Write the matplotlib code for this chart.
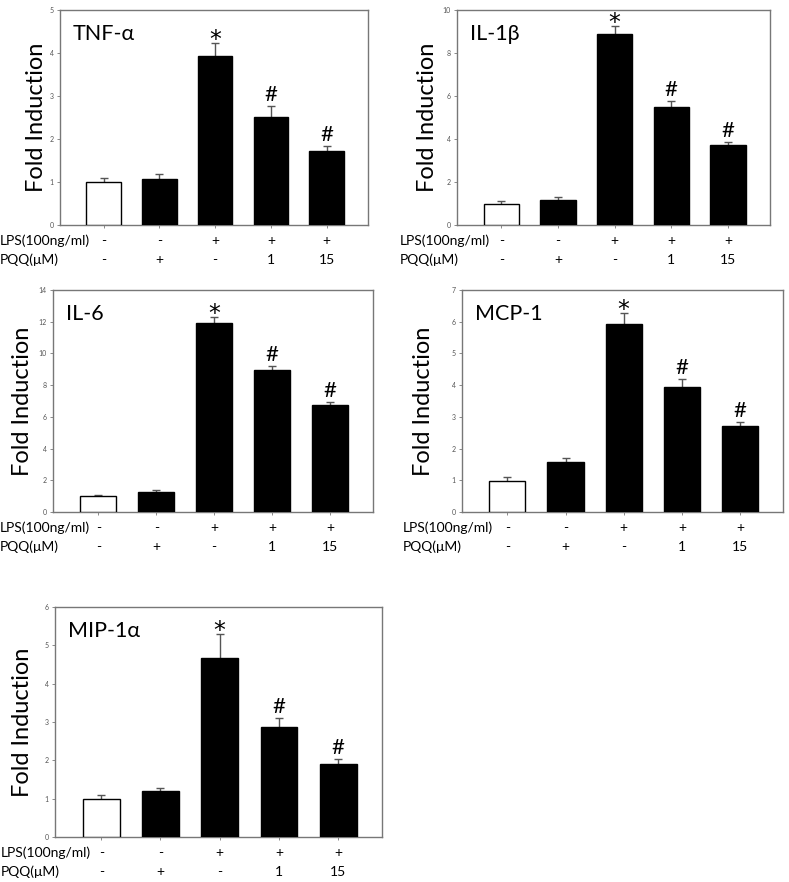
import matplotlib
matplotlib.use('Agg')
import matplotlib.pyplot as plt
import numpy as np

plt.rcParams['font.family'] = ['Lato', 'DejaVu Sans']

W, H = 789, 882

# data
groups = ['TNF-α', 'IL-1β', 'IL-6', 'MCP-1', 'MIP-1α']
tnf_mean = [1.00, 1.08, 3.92, 2.52, 1.72]
tnf_err = [0.10, 0.10, 0.32, 0.24, 0.12]
il1b_mean = [1.00, 1.18, 8.90, 5.50, 3.72]
il1b_err = [0.10, 0.12, 0.35, 0.28, 0.12]
il6_mean = [0.98, 1.27, 11.90, 8.93, 6.72]
il6_err = [0.12, 0.13, 0.37, 0.26, 0.19]
mcp1_mean = [0.99, 1.59, 5.92, 3.95, 2.71]
mcp1_err = [0.11, 0.10, 0.34, 0.24, 0.14]
mip_mean = [1.00, 1.19, 4.67, 2.86, 1.90]
mip_err = [0.09, 0.10, 0.63, 0.24, 0.13]
ymax = [5, 10, 14, 7, 6]
ystep = [1, 2, 2, 1, 1]
marks = ['', '', '*', '#', '#']
lps = ['-', '-', '+', '+', '+']
pqq = ['-', '+', '-', '1', '15']

means = [tnf_mean, il1b_mean, il6_mean, mcp1_mean, mip_mean]
errs = [tnf_err, il1b_err, il6_err, mcp1_err, mip_err]

# panel boxes in pixels: left, right, top, bottom ; plus row-label x and ylabel x
boxes = [(60, 368, 10, 225, 0, 37),
         (457, 770, 10, 225, 400, 427),
         (53, 373, 290, 512, 0, 23),
         (462, 783, 290, 512, 403, 423),
         (55, 382, 607, 837, 1, 23)]

fig = plt.figure(figsize=(W / 100, H / 100), dpi=100)
x = np.arange(5)
for k in range(5):
    l, r, t, b, lx, ylx = boxes[k]
    ax = fig.add_axes([l / W, 1 - b / H, (r - l) / W, (b - t) / H])
    cols = ['white'] + ['black'] * 4
    ax.bar(x, means[k], 0.62, color=cols, edgecolor='black', linewidth=1, zorder=3)
    ax.errorbar(x, means[k], yerr=errs[k], fmt='none', ecolor='#555555',
                elinewidth=1, capsize=3, capthick=1, zorder=2)
    ax.set_xlim(-0.78, 4.74)
    ax.set_ylim(0, ymax[k])
    ax.set_yticks(np.arange(0, ymax[k] + 0.01, ystep[k]))
    ax.set_xticks(x)
    ax.set_xticklabels([])
    ax.tick_params(axis='y', labelsize=5, labelcolor='#555555', length=2.5,
                   width=0.6, color='#777777', pad=2)
    ax.tick_params(axis='x', length=2.5, width=0.6, color='#777777')
    for s in ax.spines.values():
        s.set_color('#777777')
        s.set_linewidth(1)

    for i in range(5):
        top = means[k][i] + errs[k][i]
        if marks[i] == '*':
            ax.annotate('*', xy=(x[i], top), xytext=(0, -9), textcoords='offset pixels',
                        ha='center', va='bottom', fontsize=17, family='DejaVu Sans')
        elif marks[i]:
            ax.annotate(marks[i], xy=(x[i], top), xytext=(0, 1), textcoords='offset pixels',
                        ha='center', va='bottom', fontsize=16)
        ax.annotate(lps[i], xy=(x[i], 0), xycoords=('data', 'axes fraction'),
                    xytext=(0, -16), textcoords='offset pixels',
                    ha='center', va='center', fontsize=10)
        ax.annotate(pqq[i], xy=(x[i], 0), xycoords=('data', 'axes fraction'),
                    xytext=(0, -35), textcoords='offset pixels',
                    ha='center', va='center', fontsize=10)

    fig.text(lx / W, 1 - (b + 16) / H, 'LPS(100ng/ml)', ha='left', va='center', fontsize=10)
    fig.text(lx / W, 1 - (b + 35) / H, 'PQQ(μM)', ha='left', va='center', fontsize=10)
    fig.text(ylx / W, 1 - (t + b) / 2 / H, 'Fold Induction', rotation=90,
             ha='center', va='center', fontsize=17)
    ax.annotate(groups[k], xy=(0, 1), xycoords='axes fraction',
                xytext=(13, -24), textcoords='offset pixels',
                ha='left', va='center', fontsize=15.5)

fig.savefig('out.png', dpi=100)
